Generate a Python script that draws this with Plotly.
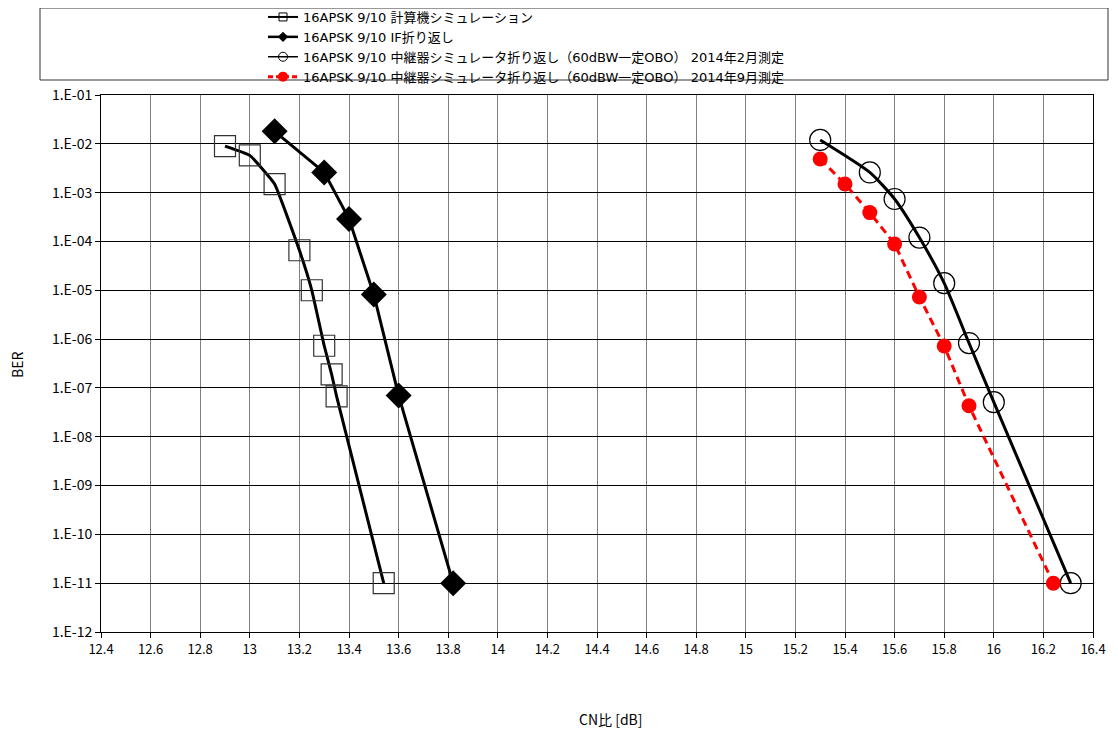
import plotly.graph_objects as go

# ---- data ----
names = [
    "16APSK 9/10 計算機シミュレーション",
    "16APSK 9/10 IF折り返し",
    "16APSK 9/10 中継器シミュレータ折り返し（60dBW一定OBO） 2014年2月測定",
    "16APSK 9/10 中継器シミュレータ折り返し（60dBW一定OBO） 2014年9月測定",
]
sim_cn = [12.9, 13.0, 13.1, 13.2, 13.25, 13.3, 13.33, 13.35, 13.54]
sim_ber = [9.0e-3, 5.8e-3, 1.5e-3, 6.6e-5, 1.0e-5, 7.3e-7, 1.9e-7, 6.7e-8, 1.0e-11]

if_cn = [13.1, 13.3, 13.4, 13.5, 13.6, 13.82]
if_ber = [1.8e-2, 2.6e-3, 2.9e-4, 8.2e-6, 7.0e-8, 1.0e-11]

feb_cn = [15.3, 15.5, 15.6, 15.7, 15.8, 15.9, 16.0, 16.31]
feb_ber = [1.2e-2, 2.6e-3, 7.4e-4, 1.2e-4, 1.4e-5, 8.3e-7, 5.1e-8, 1.0e-11]

sep_cn = [15.3, 15.4, 15.5, 15.6, 15.7, 15.8, 15.9, 16.24]
sep_ber = [4.9e-3, 1.5e-3, 3.9e-4, 8.9e-5, 7.3e-6, 7.2e-7, 4.3e-8, 1.0e-11]

x_ticks = [12.4, 12.6, 12.8, 13, 13.2, 13.4, 13.6, 13.8, 14, 14.2, 14.4, 14.6,
           14.8, 15, 15.2, 15.4, 15.6, 15.8, 16, 16.2, 16.4]
x_ticktext = ["12.4", "12.6", "12.8", "13", "13.2", "13.4", "13.6", "13.8", "14",
              "14.2", "14.4", "14.6", "14.8", "15", "15.2", "15.4", "15.6", "15.8",
              "16", "16.2", "16.4"]
y_exps = list(range(-1, -13, -1))
y_ticktext = ["1.E-%02d" % (-e) for e in y_exps]

FONT = "Noto Sans CJK JP, Liberation Sans, sans-serif"
LEG_FONT = "DejaVu Sans, Noto Sans CJK JP, sans-serif"
W, H = 1118, 731

# plot area in page pixels (reference) and page offset correction (body margin)
OFF_X, OFF_Y = 8, 8
L, R, T, B = 101 - OFF_X, 1093 - OFF_X, 95 - OFF_Y, 632 - OFF_Y
PW, PH = R - L, B - T


def px(x):
    return (x - OFF_X - L) / PW


def py(y):
    return (B - (y - OFF_Y)) / PH


styles = [
    dict(line=dict(color="black", width=3, shape="spline", smoothing=0.3),
         marker=dict(symbol="square-open", size=21, color="#333333",
                     line=dict(width=1.2, color="#333333"))),
    dict(line=dict(color="black", width=3),
         marker=dict(symbol="diamond", size=20, color="black")),
    dict(line=dict(color="black", width=3, shape="spline", smoothing=0.6),
         marker=dict(symbol="circle-open", size=21, color="black",
                     line=dict(width=1.2, color="black"))),
    dict(line=dict(color="#ff0000", width=3, dash="8px,5px"),
         marker=dict(symbol="circle", size=15, color="#ff0000")),
]
legend_styles = [
    dict(line=dict(color="black", width=2),
         marker=dict(symbol="square-open", size=8, color="black", line=dict(width=1))),
    dict(line=dict(color="black", width=2.5),
         marker=dict(symbol="diamond", size=8, color="black")),
    dict(line=dict(color="black", width=1.5),
         marker=dict(symbol="circle-open", size=9, color="black", line=dict(width=1))),
    dict(line=dict(color="#ff0000", width=3, dash="5px,3px"),
         marker=dict(symbol="circle", size=10, color="#ff0000")),
]
series = [(sim_cn, sim_ber), (if_cn, if_ber), (feb_cn, feb_ber), (sep_cn, sep_ber)]

fig = go.Figure()
for (xs, ys), st in zip(series, styles):
    fig.add_trace(go.Scatter(x=xs, y=ys, mode="lines+markers", showlegend=False, **st))
for name, st in zip(names, legend_styles):
    fig.add_trace(go.Scatter(x=[None], y=[None], name=name, mode="lines+markers",
                             showlegend=True, **st))

# legend frame
fig.add_shape(type="rect", xref="paper", yref="paper",
              x0=px(40), x1=px(1108), y0=py(80), y1=py(8),
              line=dict(color="#333333", width=1), fillcolor="white", layer="below")

fig.add_annotation(text="BER", xref="paper", yref="paper",
                   x=px(17), y=py(365), showarrow=False, xanchor="center", yanchor="middle",
                   textangle=-90, font=dict(size=14, color="black", family=FONT))
fig.add_annotation(text="CN比 [dB]", xref="paper", yref="paper",
                   x=px(611), y=py(719), showarrow=False, xanchor="center", yanchor="middle",
                   font=dict(size=14, color="black", family=FONT))

fig.update_layout(
    width=W, height=H,
    margin=dict(l=L, r=W - R, t=T, b=H - B, autoexpand=False),
    paper_bgcolor="white", plot_bgcolor="white",
    font=dict(family=FONT, size=13, color="black"),
    showlegend=True,
    legend=dict(x=px(263), y=py(2), xanchor="left", yanchor="top",
                bgcolor="rgba(0,0,0,0)", borderwidth=0,
                font=dict(size=13, family=LEG_FONT, color="black"),
                tracegroupgap=0, itemwidth=30),
)
fig.update_xaxes(range=[12.4, 16.4], tickvals=x_ticks, ticktext=x_ticktext,
                 showgrid=True, gridcolor="#808080", gridwidth=1,
                 showline=True, linecolor="black", linewidth=1, mirror=True,
                 ticks="outside", ticklen=5, tickcolor="black",
                 tickfont=dict(size=13), zeroline=False)
fig.update_yaxes(type="log", range=[-12, -1], tickvals=[10.0 ** e for e in y_exps],
                 ticktext=y_ticktext,
                 showgrid=True, gridcolor="black", gridwidth=1,
                 showline=True, linecolor="black", linewidth=1, mirror=True,
                 ticks="outside", ticklen=5, tickcolor="black",
                 tickfont=dict(size=14), zeroline=False)

fig.write_html("out.html")
